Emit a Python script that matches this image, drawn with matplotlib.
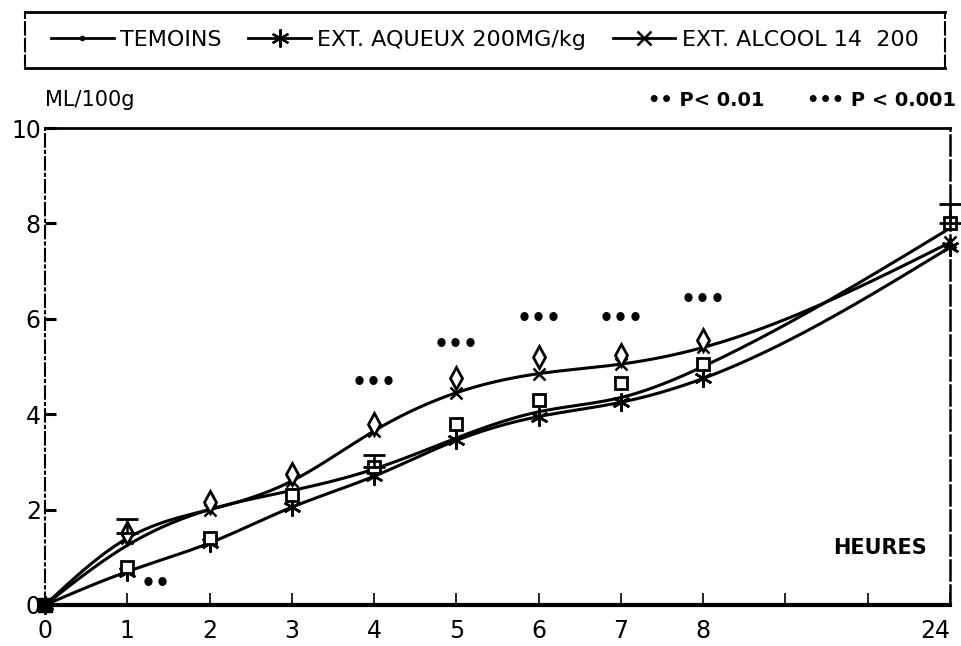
import matplotlib.pyplot as plt
import numpy as np
from matplotlib.lines import Line2D

plt.rcParams['font.family'] = ['DejaVu Sans']

# time points (hours) and their position on the x axis
hours = ["0", "1", "2", "3", "4", "5", "6", "7", "8", "24"]
xpos = [0, 1, 2, 3, 4, 5, 6, 7, 8, 11]

# fitted curves, ML/100g
temoins = [0, 1.25, 2.0, 2.4, 2.85, 3.5, 4.05, 4.35, 5.0, 7.9]
aqueux = [0, 0.7, 1.3, 2.05, 2.7, 3.45, 3.95, 4.25, 4.75, 7.5]
alcool = [0, 1.4, 2.0, 2.6, 3.65, 4.45, 4.85, 5.05, 5.4, 7.6]

# measured means
alcool_pts = [0, 1.5, 2.15, 2.75, 3.8, 4.75, 5.2, 5.25, 5.55]
temoins_pts = [0, 0.8, 1.4, 2.3, 2.9, 3.8, 4.3, 4.65, 5.05, 8.0]

# upper error bars
err_x = [1, 4, 11]
err_y = [1.5, 2.9, 8.0]
err_up = [0.3, 0.25, 0.4]

# significance marks
sig_x = [1.35, 4, 5, 6, 7, 8]
sig_y = [0.45, 4.65, 5.45, 6.0, 6.0, 6.4]
sig_txt = ["••", "•••", "•••", "•••", "•••", "•••"]

ASTER = (6, 2, 0)


def spline(x, y, n=400):
    """natural cubic spline, used only to draw the smooth curves"""
    x = np.asarray(x, float)
    y = np.asarray(y, float)
    k = len(x)
    h = np.diff(x)
    A = np.zeros((k, k))
    b = np.zeros(k)
    A[0, 0] = A[-1, -1] = 1
    for i in range(1, k - 1):
        A[i, i - 1] = h[i - 1]
        A[i, i] = 2 * (h[i - 1] + h[i])
        A[i, i + 1] = h[i]
        b[i] = 6 * ((y[i + 1] - y[i]) / h[i] - (y[i] - y[i - 1]) / h[i - 1])
    M = np.linalg.solve(A, b)
    xs = np.linspace(x[0], x[-1], n)
    idx = np.clip(np.searchsorted(x, xs) - 1, 0, k - 2)
    x0, x1 = x[idx], x[idx + 1]
    hh = x1 - x0
    t0, t1 = x1 - xs, xs - x0
    ys = (M[idx] * t0 ** 3 + M[idx + 1] * t1 ** 3) / (6 * hh) \
        + (y[idx] / hh - M[idx] * hh / 6) * t0 + (y[idx + 1] / hh - M[idx + 1] * hh / 6) * t1
    return xs, ys


fig = plt.figure(figsize=(9.61, 6.46), dpi=100)
ax = fig.add_axes([45 / 961, 1 - 605 / 646, 905 / 961, 477 / 646])

for vals in (temoins, aqueux, alcool):
    xs, ys = spline(xpos, vals)
    ax.plot(xs, ys, color='black', lw=2.2, clip_on=False)

ax.plot(xpos, aqueux, ls='none', marker=ASTER, ms=13, mec='black', mew=1.8, clip_on=False)
ax.plot(xpos, alcool, ls='none', marker='x', ms=9, mec='black', mew=1.8, clip_on=False)
# hour 0 is covered by the origin mark
ax.plot(xpos[1:9], alcool_pts[1:], ls='none', marker='d', ms=11, mfc='white', mec='black', mew=2)
ax.plot(xpos[1:], temoins_pts[1:], ls='none', marker='s', ms=8, mfc='white', mec='black', mew=2,
        clip_on=False)
ax.errorbar(err_x, err_y, yerr=[np.zeros(3), err_up], fmt='none', ecolor='black',
            elinewidth=1.8, capsize=8, capthick=2, clip_on=False)
ax.plot([0], [0], marker='s', ms=10, color='black', clip_on=False)

for x, y, s in zip(sig_x, sig_y, sig_txt):
    ax.text(x, y, s, ha='center', va='center', fontsize=17, fontweight='bold')

ax.set_xlim(0, 11)
ax.set_ylim(0, 10)
ax.set_xticks(xpos)
ax.set_xticklabels(hours, fontsize=17)
ax.set_xticks([9, 10], minor=True)
ax.tick_params(axis='x', which='both', direction='in', length=9, width=1.2, pad=10)
ax.get_xticklabels()[-1].set_horizontalalignment('right')
ax.set_yticks([0, 2, 4, 6, 8, 10])
ax.set_yticklabels(["0", "2", "4", "6", "8", "10"], fontsize=17)
ax.tick_params(axis='y', direction='in', length=8, width=2.2, pad=3)

ax.spines['top'].set_linewidth(2)
ax.spines['bottom'].set_linewidth(3)
ax.spines['left'].set_linewidth(1.5)
ax.spines['left'].set_linestyle((0, (6, 2, 1, 2)))
ax.spines['right'].set_linewidth(1.8)
ax.spines['right'].set_linestyle((0, (8, 2)))

fig.text(880 / 961, 1 - 548 / 646, "HEURES", fontsize=15,
         fontweight='bold', ha='center', va='center')
fig.text(45 / 961, 1 - 100 / 646, "ML/100g", fontsize=15, ha='left', va='center')
fig.text(765 / 961, 1 - 100 / 646, "•• P< 0.01", fontsize=14, fontweight='bold',
         ha='right', va='center')
fig.text(956 / 961, 1 - 100 / 646, "••• P < 0.001", fontsize=14, fontweight='bold',
         ha='right', va='center')

# legend box
lax = fig.add_axes([25 / 961, 1 - 68 / 646, 920 / 961, 56 / 646])
lax.set_xticks([])
lax.set_yticks([])
lax.patch.set_alpha(0)
lax.spines['top'].set_linewidth(2)
lax.spines['bottom'].set_linewidth(2)
for side in ('left', 'right'):
    lax.spines[side].set_linewidth(1.5)
    lax.spines[side].set_linestyle((0, (6, 2)))

handles = [
    Line2D([], [], color='black', lw=2, marker='.', ms=6),
    Line2D([], [], color='black', lw=2, marker=ASTER, ms=13, mew=1.6),
    Line2D([], [], color='black', lw=2, marker='x', ms=10, mew=1.8),
]
labels = ["TEMOINS", "EXT. AQUEUX 200MG/kg", "EXT. ALCOOL 14  200"]
lax.legend(handles, labels, loc='center', ncol=3, frameon=False, fontsize=16,
           handlelength=2.8, handletextpad=0.3, columnspacing=1.2, borderaxespad=0)

fig.savefig('out.png', dpi=100)
